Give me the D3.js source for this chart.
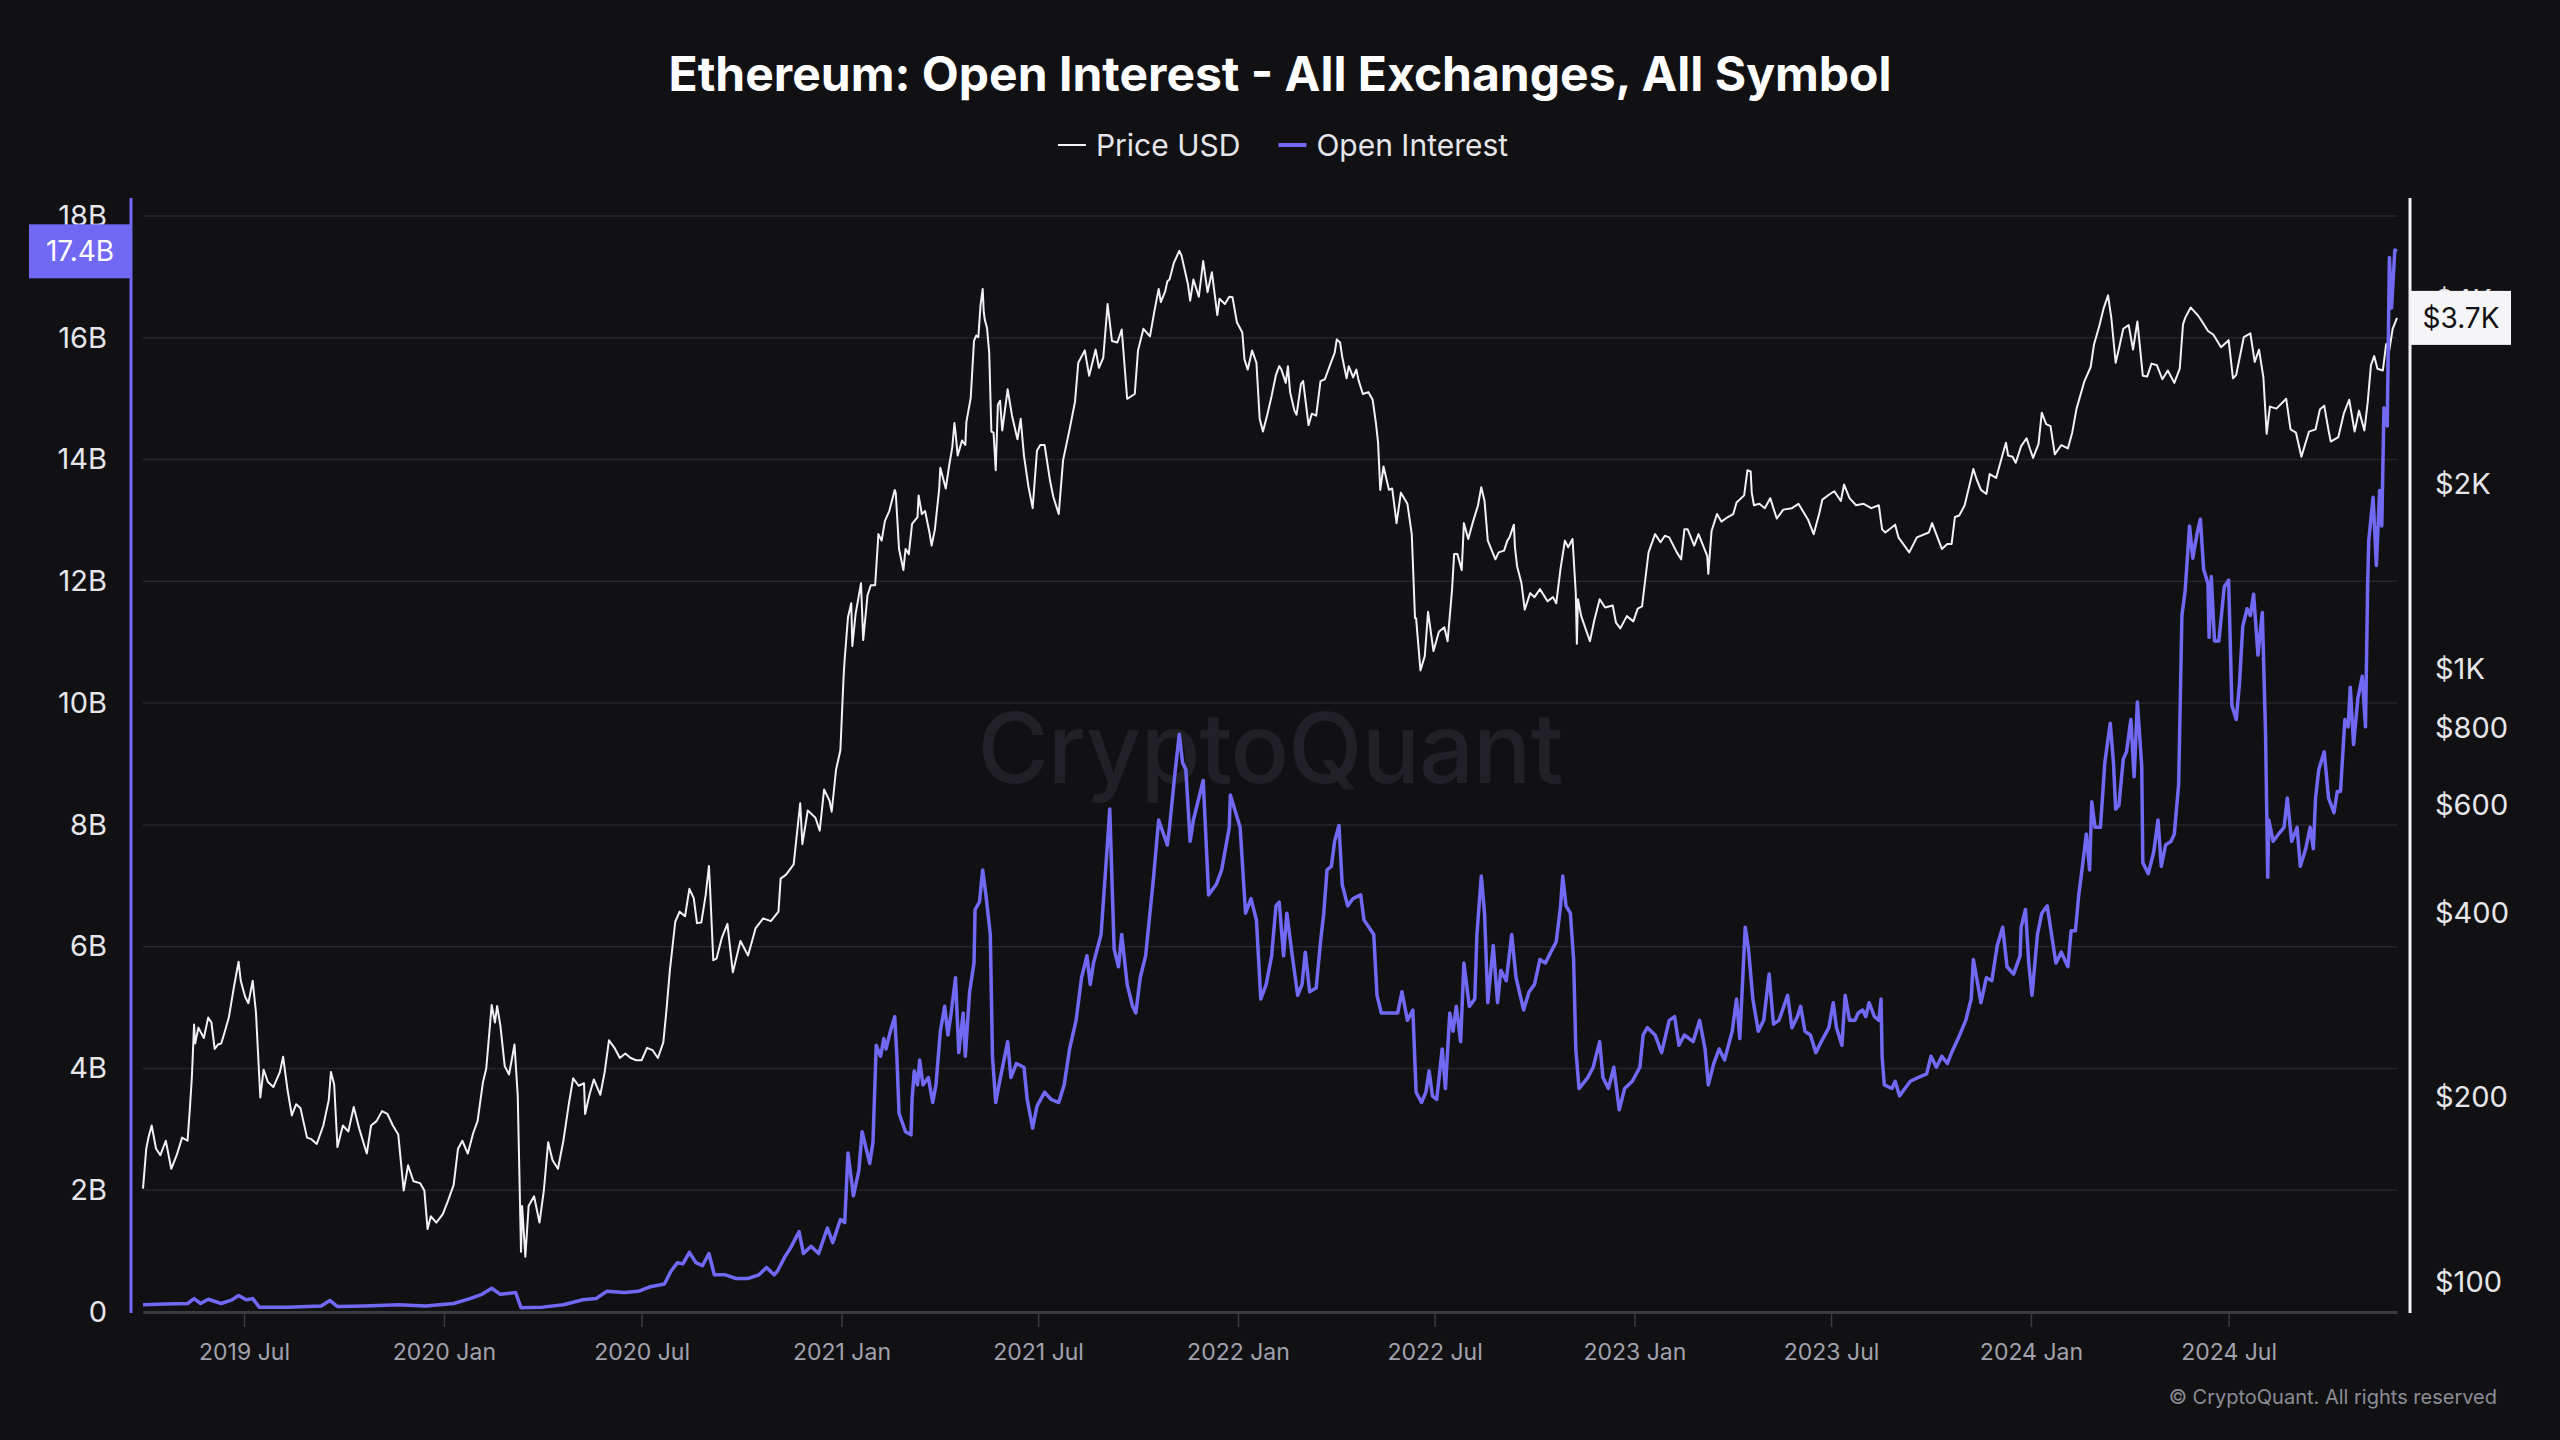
<!DOCTYPE html>
<html><head><meta charset="utf-8">
<script src="https://cdn.jsdelivr.net/npm/d3@7"></script>
<style>
html,body{margin:0;padding:0;background:#111114;}
svg{display:block;}
text{font-family:Inter,"Noto Sans","DejaVu Sans",sans-serif;}
</style>
</head><body>
<svg id="chart" width="2560" height="1440"></svg>
<script>
// ---------- DATA ----------
const chartTitle = "Ethereum: Open Interest - All Exchanges, All Symbol";
const seriesNames = ["Price USD", "Open Interest"];

// Price USD [date, value]
const price2019 = [["2019-03-30",142],["2019-04-02",165],["2019-04-04",172],["2019-04-07",180],["2019-04-11",165],["2019-04-15",161],["2019-04-20",170],["2019-04-25",153],["2019-04-30",161],["2019-05-05",172],["2019-05-10",170],["2019-05-12",190],["2019-05-14",216],["2019-05-16",263],["2019-05-17",245],["2019-05-20",260],["2019-05-25",250],["2019-05-29",270],["2019-06-01",265],["2019-06-04",240],["2019-06-07",244],["2019-06-10",245],["2019-06-13",255],["2019-06-17",270],["2019-06-22",305],["2019-06-26",333],["2019-06-28",310],["2019-07-02",292],["2019-07-05",285],["2019-07-09",310],["2019-07-12",275],["2019-07-16",200],["2019-07-19",222],["2019-07-23",212],["2019-07-28",208],["2019-08-03",220],["2019-08-06",233],["2019-08-10",206],["2019-08-14",187],["2019-08-18",195],["2019-08-22",192],["2019-08-28",172],["2019-09-01",171],["2019-09-06",168],["2019-09-12",180],["2019-09-17",198],["2019-09-19",220],["2019-09-22",210],["2019-09-25",166],["2019-09-30",180],["2019-10-05",176],["2019-10-10",193],["2019-10-15",178],["2019-10-22",162],["2019-10-26",180],["2019-10-31",183],["2019-11-05",190],["2019-11-10",188],["2019-11-15",180],["2019-11-20",174],["2019-11-25",141],["2019-11-29",155],["2019-12-04",146],["2019-12-10",145],["2019-12-14",141],["2019-12-17",122],["2019-12-20",128],["2019-12-25",125],["2019-12-31",129]];
const price2020 = [["2020-01-05",136],["2020-01-10",144],["2020-01-14",165],["2020-01-18",170],["2020-01-23",162],["2020-01-28",175],["2020-02-01",183],["2020-02-06",212],["2020-02-09",223],["2020-02-14",283],["2020-02-17",265],["2020-02-19",282],["2020-02-22",262],["2020-02-26",225],["2020-03-01",218],["2020-03-06",244],["2020-03-09",201],["2020-03-12",112],["2020-03-13",133],["2020-03-16",110],["2020-03-19",133],["2020-03-24",138],["2020-03-29",125],["2020-04-02",141],["2020-04-06",169],["2020-04-10",158],["2020-04-15",153],["2020-04-20",170],["2020-04-25",195],["2020-04-29",215],["2020-05-04",209],["2020-05-09",211],["2020-05-10",188],["2020-05-14",202],["2020-05-18",214],["2020-05-24",202],["2020-05-28",220],["2020-06-01",248],["2020-06-06",241],["2020-06-11",232],["2020-06-16",236],["2020-06-21",232],["2020-06-26",230],["2020-07-01",230],["2020-07-06",241],["2020-07-11",239],["2020-07-16",232],["2020-07-21",246],["2020-07-24",279],["2020-07-27",322],["2020-08-01",387],["2020-08-05",402],["2020-08-10",395],["2020-08-14",438],["2020-08-18",423],["2020-08-21",385],["2020-08-25",386],["2020-08-29",428],["2020-09-01",477],["2020-09-02",440],["2020-09-05",335],["2020-09-08",337],["2020-09-13",365],["2020-09-18",384],["2020-09-23",320],["2020-09-30",360],["2020-10-07",341],["2020-10-14",378],["2020-10-21",392],["2020-10-28",388],["2020-11-04",402],["2020-11-06",455],["2020-11-11",462],["2020-11-18",480],["2020-11-24",604],["2020-11-26",518],["2020-12-01",588],["2020-12-08",572],["2020-12-12",545],["2020-12-16",636],["2020-12-21",610],["2020-12-23",585],["2020-12-27",685],["2020-12-31",737]];
const price2021 = [["2021-01-03",975],["2021-01-04",1040],["2021-01-07",1215],["2021-01-10",1280],["2021-01-11",1090],["2021-01-14",1230],["2021-01-19",1380],["2021-01-21",1115],["2021-01-25",1320],["2021-01-28",1370],["2021-02-01",1370],["2021-02-04",1660],["2021-02-07",1620],["2021-02-10",1745],["2021-02-14",1810],["2021-02-19",1960],["2021-02-20",1935],["2021-02-23",1570],["2021-02-27",1450],["2021-03-01",1570],["2021-03-04",1540],["2021-03-07",1725],["2021-03-12",1770],["2021-03-13",1920],["2021-03-16",1790],["2021-03-19",1810],["2021-03-23",1670],["2021-03-25",1590],["2021-03-28",1690],["2021-04-01",1970],["2021-04-02",2130],["2021-04-07",1970],["2021-04-10",2140],["2021-04-13",2300],["2021-04-15",2520],["2021-04-16",2430],["2021-04-18",2230],["2021-04-22",2360],["2021-04-25",2320],["2021-04-26",2530],["2021-04-30",2770],["2021-05-03",3430],["2021-05-05",3500],["2021-05-07",3480],["2021-05-09",3920],["2021-05-11",4170],["2021-05-12",3820],["2021-05-13",3710],["2021-05-15",3600],["2021-05-17",3280],["2021-05-19",2440],["2021-05-21",2430],["2021-05-23",2110],["2021-05-25",2700],["2021-05-27",2740],["2021-05-29",2450],["2021-06-03",2860],["2021-06-07",2590],["2021-06-12",2370],["2021-06-15",2560],["2021-06-18",2230],["2021-06-22",1990],["2021-06-26",1830],["2021-06-30",2270],["2021-07-03",2320],["2021-07-07",2320],["2021-07-12",2030],["2021-07-15",1910],["2021-07-20",1790],["2021-07-24",2190],["2021-07-30",2460],["2021-08-04",2730],["2021-08-07",3160],["2021-08-13",3310],["2021-08-17",3010],["2021-08-23",3320],["2021-08-26",3100],["2021-08-30",3220],["2021-09-03",3940],["2021-09-07",3430],["2021-09-12",3410],["2021-09-16",3580],["2021-09-21",2760],["2021-09-28",2810],["2021-10-01",3310],["2021-10-06",3590],["2021-10-12",3490],["2021-10-16",3830],["2021-10-20",4170],["2021-10-22",3970],["2021-10-26",4130],["2021-10-28",4290],["2021-10-30",4320],["2021-11-03",4600],["2021-11-08",4810],["2021-11-10",4730],["2021-11-16",4240],["2021-11-18",3990],["2021-11-21",4320],["2021-11-26",4050],["2021-11-30",4630],["2021-12-04",4120],["2021-12-08",4440],["2021-12-13",3780],["2021-12-15",4020],["2021-12-20",3940],["2021-12-24",4050],["2021-12-27",4040],["2021-12-31",3680]];
const price2022 = [["2022-01-05",3540],["2022-01-07",3200],["2022-01-10",3080],["2022-01-14",3310],["2022-01-18",3160],["2022-01-21",2560],["2022-01-24",2440],["2022-01-28",2600],["2022-02-01",2790],["2022-02-05",3020],["2022-02-08",3120],["2022-02-10",3080],["2022-02-14",2930],["2022-02-16",3120],["2022-02-18",2830],["2022-02-22",2640],["2022-02-24",2600],["2022-02-28",2920],["2022-03-02",2950],["2022-03-07",2500],["2022-03-10",2610],["2022-03-14",2590],["2022-03-18",2950],["2022-03-22",2970],["2022-03-27",3140],["2022-03-31",3280],["2022-04-02",3450],["2022-04-05",3410],["2022-04-07",3230],["2022-04-11",2980],["2022-04-13",3120],["2022-04-17",2990],["2022-04-20",3080],["2022-04-22",2960],["2022-04-26",2810],["2022-05-01",2830],["2022-05-05",2750],["2022-05-08",2520],["2022-05-10",2340],["2022-05-12",1960],["2022-05-15",2140],["2022-05-20",1960],["2022-05-23",1970],["2022-05-27",1730],["2022-05-31",1940],["2022-06-06",1860],["2022-06-10",1660],["2022-06-13",1210],["2022-06-14",1210],["2022-06-18",995],["2022-06-22",1050],["2022-06-25",1240],["2022-06-30",1070],["2022-07-05",1150],["2022-07-10",1170],["2022-07-13",1110],["2022-07-17",1340],["2022-07-19",1540],["2022-07-22",1540],["2022-07-26",1450],["2022-07-28",1730],["2022-08-01",1630],["2022-08-05",1730],["2022-08-10",1850],["2022-08-13",1980],["2022-08-16",1880],["2022-08-19",1620],["2022-08-26",1510],["2022-08-29",1550],["2022-09-03",1560],["2022-09-06",1620],["2022-09-08",1640],["2022-09-12",1720],["2022-09-13",1580],["2022-09-15",1470],["2022-09-19",1380],["2022-09-22",1250],["2022-09-27",1330],["2022-10-01",1310],["2022-10-06",1350],["2022-10-13",1290],["2022-10-18",1310],["2022-10-21",1280],["2022-10-25",1460],["2022-10-29",1620],["2022-11-01",1580],["2022-11-05",1630],["2022-11-08",1330],["2022-11-09",1100],["2022-11-10",1300],["2022-11-13",1220],["2022-11-21",1110],["2022-11-25",1200],["2022-11-30",1300],["2022-12-05",1260],["2022-12-12",1270],["2022-12-15",1190],["2022-12-19",1165],["2022-12-25",1220],["2022-12-31",1196]];
const price2023 = [["2023-01-04",1255],["2023-01-08",1265],["2023-01-14",1550],["2023-01-20",1660],["2023-01-25",1610],["2023-01-29",1650],["2023-02-02",1640],["2023-02-09",1550],["2023-02-13",1510],["2023-02-16",1690],["2023-02-19",1690],["2023-02-25",1590],["2023-03-01",1660],["2023-03-09",1530],["2023-03-10",1430],["2023-03-13",1680],["2023-03-18",1790],["2023-03-22",1740],["2023-03-28",1770],["2023-04-02",1790],["2023-04-05",1870],["2023-04-12",1920],["2023-04-15",2110],["2023-04-18",2100],["2023-04-19",1940],["2023-04-21",1850],["2023-04-26",1860],["2023-05-01",1830],["2023-05-06",1900],["2023-05-12",1760],["2023-05-18",1820],["2023-05-26",1830],["2023-06-01",1860],["2023-06-05",1810],["2023-06-10",1750],["2023-06-15",1660],["2023-06-20",1790],["2023-06-23",1890],["2023-06-30",1930],["2023-07-04",1950],["2023-07-10",1880],["2023-07-13",2000],["2023-07-18",1900],["2023-07-24",1850],["2023-07-31",1860],["2023-08-07",1830],["2023-08-14",1850],["2023-08-17",1690],["2023-08-20",1670],["2023-08-29",1720],["2023-09-01",1640],["2023-09-11",1550],["2023-09-18",1640],["2023-09-29",1670],["2023-10-02",1730],["2023-10-11",1570],["2023-10-16",1600],["2023-10-20",1600],["2023-10-23",1770],["2023-10-27",1780],["2023-11-01",1850],["2023-11-09",2120],["2023-11-12",2040],["2023-11-16",1960],["2023-11-21",1930],["2023-11-24",2080],["2023-11-30",2050],["2023-12-06",2240],["2023-12-09",2340],["2023-12-11",2230],["2023-12-15",2220],["2023-12-18",2170],["2023-12-23",2310],["2023-12-28",2380],["2023-12-31",2290]];
const price2024 = [["2024-01-03",2210],["2024-01-08",2330],["2024-01-11",2620],["2024-01-15",2510],["2024-01-19",2490],["2024-01-23",2240],["2024-01-29",2320],["2024-02-04",2290],["2024-02-08",2430],["2024-02-12",2660],["2024-02-19",2940],["2024-02-25",3110],["2024-02-28",3380],["2024-03-04",3630],["2024-03-08",3880],["2024-03-12",4070],["2024-03-15",3740],["2024-03-19",3160],["2024-03-22",3330],["2024-03-26",3590],["2024-03-31",3640],["2024-04-04",3320],["2024-04-08",3690],["2024-04-13",3010],["2024-04-17",3000],["2024-04-21",3150],["2024-04-26",3130],["2024-05-01",2970],["2024-05-06",3070],["2024-05-12",2930],["2024-05-17",3090],["2024-05-20",3650],["2024-05-22",3740],["2024-05-27",3890],["2024-06-03",3770],["2024-06-07",3680],["2024-06-12",3560],["2024-06-17",3510],["2024-06-24",3350],["2024-07-01",3440],["2024-07-05",2980],["2024-07-08",3020],["2024-07-15",3480],["2024-07-21",3530],["2024-07-25",3170],["2024-07-29",3320],["2024-08-02",2990],["2024-08-05",2420],["2024-08-08",2680],["2024-08-14",2660],["2024-08-23",2760],["2024-08-27",2460],["2024-09-01",2430],["2024-09-06",2220],["2024-09-13",2440],["2024-09-19",2460],["2024-09-23",2650],["2024-09-27",2690],["2024-10-01",2450],["2024-10-03",2350],["2024-10-10",2390],["2024-10-15",2610],["2024-10-20",2750],["2024-10-25",2440],["2024-10-29",2640],["2024-11-03",2450],["2024-11-06",2720],["2024-11-09",3130],["2024-11-12",3240],["2024-11-15",3090],["2024-11-20",3070],["2024-11-23",3390],["2024-11-26",3320],["2024-11-29",3590],["2024-12-03",3740]];

// Open Interest, billions USD [date, value]
const oi2019 = [["2019-03-30",0.12],["2019-04-20",0.13],["2019-05-10",0.14],["2019-05-16",0.22],["2019-05-22",0.14],["2019-05-29",0.21],["2019-06-10",0.14],["2019-06-20",0.2],["2019-06-26",0.27],["2019-07-03",0.2],["2019-07-09",0.22],["2019-07-15",0.08],["2019-08-10",0.08],["2019-09-10",0.1],["2019-09-18",0.19],["2019-09-25",0.09],["2019-10-20",0.1],["2019-11-20",0.12],["2019-12-15",0.1]];
const oi2020 = [["2020-01-10",0.14],["2020-01-25",0.22],["2020-02-05",0.29],["2020-02-14",0.39],["2020-02-22",0.29],["2020-03-07",0.32],["2020-03-12",0.07],["2020-04-01",0.08],["2020-04-20",0.12],["2020-05-08",0.2],["2020-05-20",0.22],["2020-05-30",0.34],["2020-06-15",0.32],["2020-06-28",0.34],["2020-07-08",0.41],["2020-07-22",0.46],["2020-07-28",0.67],["2020-08-03",0.81],["2020-08-08",0.79],["2020-08-14",0.98],["2020-08-20",0.81],["2020-08-26",0.76],["2020-09-01",0.96],["2020-09-06",0.61],["2020-09-16",0.61],["2020-09-26",0.55],["2020-10-07",0.55],["2020-10-17",0.61],["2020-10-24",0.73],["2020-10-31",0.61],["2020-11-03",0.67],["2020-11-10",0.91],["2020-11-15",1.05],["2020-11-23",1.32],["2020-11-27",0.96],["2020-12-04",1.08],["2020-12-11",0.96],["2020-12-19",1.38],["2020-12-24",1.14],["2020-12-31",1.52]];
const oi2021 = [["2021-01-04",1.47],["2021-01-07",2.61],["2021-01-12",1.91],["2021-01-17",2.32],["2021-01-20",2.96],["2021-01-27",2.44],["2021-01-30",2.79],["2021-02-02",4.38],["2021-02-06",4.2],["2021-02-09",4.49],["2021-02-11",4.32],["2021-02-15",4.61],["2021-02-19",4.85],["2021-02-21",4.2],["2021-02-23",3.26],["2021-03-01",2.96],["2021-03-06",2.91],["2021-03-07",3.49],["2021-03-09",3.96],["2021-03-12",3.73],["2021-03-14",4.14],["2021-03-17",3.73],["2021-03-22",3.85],["2021-03-26",3.44],["2021-03-29",3.73],["2021-04-02",4.61],["2021-04-06",5.02],["2021-04-09",4.55],["2021-04-12",4.91],["2021-04-16",5.49],["2021-04-19",4.26],["2021-04-23",4.91],["2021-04-25",4.2],["2021-04-29",5.26],["2021-05-03",5.73],["2021-05-04",6.61],["2021-05-08",6.73],["2021-05-11",7.26],["2021-05-14",6.85],["2021-05-18",6.2],["2021-05-20",4.2],["2021-05-23",3.44],["2021-05-26",3.73],["2021-06-03",4.44],["2021-06-06",3.85],["2021-06-11",4.08],["2021-06-18",4.02],["2021-06-21",3.49],["2021-06-26",3.02],["2021-06-30",3.38],["2021-07-07",3.61],["2021-07-13",3.49],["2021-07-20",3.44],["2021-07-25",3.73],["2021-07-30",4.32],["2021-08-05",4.79],["2021-08-10",5.49],["2021-08-15",5.85],["2021-08-18",5.38],["2021-08-21",5.73],["2021-08-28",6.2],["2021-09-03",7.73],["2021-09-05",8.26],["2021-09-09",5.96],["2021-09-13",5.67],["2021-09-16",6.2],["2021-09-21",5.38],["2021-09-26",5.02],["2021-09-29",4.91],["2021-10-03",5.49],["2021-10-08",5.85],["2021-10-15",7.08],["2021-10-20",8.08],["2021-10-28",7.67],["2021-10-30",7.96],["2021-11-04",8.85],["2021-11-08",9.49],["2021-11-11",9.02],["2021-11-14",8.91],["2021-11-18",7.73],["2021-11-21",8.08],["2021-11-30",8.73],["2021-12-05",6.85],["2021-12-12",7.02],["2021-12-17",7.26],["2021-12-24",7.96],["2021-12-25",8.49]];
const oi2022 = [["2022-01-03",7.96],["2022-01-08",6.55],["2022-01-13",6.79],["2022-01-18",6.44],["2022-01-22",5.14],["2022-01-27",5.38],["2022-02-01",5.85],["2022-02-05",6.67],["2022-02-08",6.73],["2022-02-12",5.85],["2022-02-15",6.55],["2022-02-20",5.85],["2022-02-25",5.2],["2022-03-01",5.38],["2022-03-04",5.91],["2022-03-08",5.26],["2022-03-14",5.32],["2022-03-18",6.08],["2022-03-21",6.55],["2022-03-24",7.26],["2022-03-28",7.32],["2022-03-31",7.73],["2022-04-04",7.99],["2022-04-07",7.02],["2022-04-12",6.67],["2022-04-17",6.79],["2022-04-24",6.85],["2022-04-27",6.44],["2022-05-06",6.2],["2022-05-09",5.2],["2022-05-13",4.91],["2022-05-21",4.91],["2022-05-28",4.91],["2022-06-01",5.26],["2022-06-06",4.79],["2022-06-11",4.96],["2022-06-14",3.61],["2022-06-19",3.44],["2022-06-23",3.61],["2022-06-26",3.96],["2022-06-29",3.55],["2022-07-03",3.49],["2022-07-08",4.32],["2022-07-11",3.67],["2022-07-15",4.91],["2022-07-18",4.61],["2022-07-21",5.02],["2022-07-25",4.44],["2022-07-28",5.73],["2022-08-02",5.02],["2022-08-07",5.14],["2022-08-09",6.2],["2022-08-13",7.16],["2022-08-16",6.55],["2022-08-19",5.08],["2022-08-24",6.02],["2022-08-28",5.08],["2022-08-31",5.61],["2022-09-05",5.44],["2022-09-10",6.2],["2022-09-14",5.49],["2022-09-21",4.96],["2022-09-26",5.26],["2022-10-01",5.38],["2022-10-06",5.79],["2022-10-11",5.73],["2022-10-16",5.91],["2022-10-21",6.08],["2022-10-25",6.67],["2022-10-27",7.16],["2022-10-30",6.67],["2022-11-03",6.55],["2022-11-06",5.79],["2022-11-08",4.32],["2022-11-11",3.67],["2022-11-19",3.85],["2022-11-24",4.02],["2022-11-30",4.44],["2022-12-03",3.85],["2022-12-08",3.67],["2022-12-13",4.02],["2022-12-18",3.32],["2022-12-23",3.67],["2022-12-30",3.79]];
const oi2023 = [["2023-01-06",4.02],["2023-01-09",4.55],["2023-01-13",4.67],["2023-01-20",4.55],["2023-01-26",4.26],["2023-02-02",4.79],["2023-02-07",4.85],["2023-02-11",4.38],["2023-02-16",4.55],["2023-02-24",4.44],["2023-03-02",4.79],["2023-03-07",4.32],["2023-03-10",3.73],["2023-03-15",4.08],["2023-03-20",4.32],["2023-03-25",4.14],["2023-04-01",4.61],["2023-04-05",5.14],["2023-04-08",4.49],["2023-04-13",6.32],["2023-04-16",5.96],["2023-04-20",5.14],["2023-04-25",4.61],["2023-04-30",4.79],["2023-05-05",5.55],["2023-05-09",4.73],["2023-05-14",4.79],["2023-05-22",5.2],["2023-05-26",4.67],["2023-05-31",4.85],["2023-06-03",5.02],["2023-06-07",4.61],["2023-06-12",4.55],["2023-06-17",4.26],["2023-06-22",4.44],["2023-06-29",4.67],["2023-07-03",5.08],["2023-07-06",4.67],["2023-07-11",4.38],["2023-07-14",5.2],["2023-07-18",4.79],["2023-07-23",4.79],["2023-07-26",4.91],["2023-07-30",4.96],["2023-08-02",4.85],["2023-08-05",5.08],["2023-08-10",4.85],["2023-08-14",4.79],["2023-08-16",5.14],["2023-08-17",4.2],["2023-08-19",3.73],["2023-08-26",3.67],["2023-08-29",3.79],["2023-09-02",3.55],["2023-09-07",3.67],["2023-09-12",3.79],["2023-09-19",3.85],["2023-09-27",3.91],["2023-10-01",4.2],["2023-10-06",4.02],["2023-10-11",4.2],["2023-10-16",4.08],["2023-10-20",4.26],["2023-10-26",4.49],["2023-11-02",4.79],["2023-11-07",5.14],["2023-11-09",5.79],["2023-11-12",5.49],["2023-11-16",5.08],["2023-11-21",5.49],["2023-11-26",5.44],["2023-12-01",6.02],["2023-12-06",6.32],["2023-12-10",5.67],["2023-12-16",5.55],["2023-12-22",5.85],["2023-12-23",6.32],["2023-12-27",6.61],["2023-12-30",5.73]];
const oi2024 = [["2024-01-02",5.2],["2024-01-07",6.2],["2024-01-11",6.55],["2024-01-16",6.67],["2024-01-21",6.08],["2024-01-24",5.73],["2024-01-29",5.91],["2024-02-04",5.67],["2024-02-07",6.26],["2024-02-11",6.26],["2024-02-14",6.85],["2024-02-17",7.26],["2024-02-21",7.85],["2024-02-24",7.26],["2024-02-26",8.38],["2024-02-29",7.96],["2024-03-05",7.96],["2024-03-09",9.02],["2024-03-14",9.67],["2024-03-17",9.02],["2024-03-19",8.26],["2024-03-22",8.32],["2024-03-26",9.08],["2024-03-29",9.2],["2024-04-02",9.73],["2024-04-05",8.79],["2024-04-08",10.02],["2024-04-12",8.96],["2024-04-13",7.38],["2024-04-18",7.2],["2024-04-23",7.55],["2024-04-27",8.08],["2024-04-30",7.32],["2024-05-04",7.67],["2024-05-09",7.73],["2024-05-12",7.85],["2024-05-16",8.67],["2024-05-19",11.44],["2024-05-22",11.85],["2024-05-26",12.91],["2024-05-29",12.38],["2024-06-02",12.79],["2024-06-05",13.02],["2024-06-08",12.2],["2024-06-12",11.96],["2024-06-13",11.08],["2024-06-15",12.08],["2024-06-18",11.02],["2024-06-22",11.02],["2024-06-27",11.91],["2024-07-01",12.02],["2024-07-04",9.96],["2024-07-08",9.73],["2024-07-11",10.32],["2024-07-14",11.26],["2024-07-18",11.55],["2024-07-21",11.44],["2024-07-24",11.79],["2024-07-28",10.79],["2024-08-01",11.49],["2024-08-04",9.49],["2024-08-06",7.14],["2024-08-07",8.08],["2024-08-11",7.73],["2024-08-16",7.85],["2024-08-21",7.96],["2024-08-24",8.44],["2024-08-28",7.73],["2024-09-02",7.96],["2024-09-05",7.32],["2024-09-10",7.61],["2024-09-14",7.96],["2024-09-17",7.61],["2024-09-19",8.44],["2024-09-22",8.91],["2024-09-27",9.2],["2024-10-01",8.44],["2024-10-06",8.2],["2024-10-09",8.55],["2024-10-12",8.55],["2024-10-16",9.73],["2024-10-19",9.61],["2024-10-21",10.26],["2024-10-24",9.32],["2024-10-28",10.08],["2024-11-01",10.44],["2024-11-04",9.61],["2024-11-06",11.96],["2024-11-07",12.67],["2024-11-11",13.38],["2024-11-14",12.26],["2024-11-17",13.49],["2024-11-19",12.91],["2024-11-21",14.85],["2024-11-24",14.55],["2024-11-26",17.32],["2024-11-28",16.49],["2024-12-01",17.44],["2024-12-03",17.42]];

// Axis ticks and labels
const xTickDates = ["2019-07-01","2020-01-01","2020-07-01","2021-01-01","2021-07-01","2022-01-01","2022-07-01","2023-01-01","2023-07-01","2024-01-01","2024-07-01"];
const xTickLabels = ["2019 Jul","2020 Jan","2020 Jul","2021 Jan","2021 Jul","2022 Jan","2022 Jul","2023 Jan","2023 Jul","2024 Jan","2024 Jul"];
const oiTicks = [0,2,4,6,8,10,12,14,16,18];
const oiTickLabels = ["0","2B","4B","6B","8B","10B","12B","14B","16B","18B"];
const priceTicks = [100,200,400,600,800,1000,2000,4000];
const priceTickLabels = ["$100","$200","$400","$600","$800","$1K","$2K","$4K"];
const lastOILabel = "17.4B";
const lastPriceLabel = "$3.7K";
const watermark = "CryptoQuant";
const copyright = "\u00A9 CryptoQuant. All rights reserved";

// ---------- RENDER ----------
const W = 2560, H = 1440;
const C = {bg:"#111114", grid:"#25252a", axis:"#3a3a41", purple:"#7168f4", white:"#f2f2f4", label:"#e6e6ea", xlabel:"#a2a2ad", foot:"#8c8c95", wm:"#202026"};
const plot = {left:143, right:2397, top:198, bottom:1312};

const parse = d3.timeParse("%Y-%m-%d");
const toRows = arr => arr.map(([d,v]) => ({date: parse(d), value: v}));
const priceData = toRows([...price2019, ...price2020, ...price2021, ...price2022, ...price2023, ...price2024]);
const oiData = toRows([...oi2019, ...oi2020, ...oi2021, ...oi2022, ...oi2023, ...oi2024]);

const x = d3.scaleTime().domain(d3.extent(priceData, d => d.date)).range([plot.left, plot.right]);
const yOI = d3.scaleLinear().domain([0, 18]).range([1312, 216]);
const yPrice = d3.scaleLog().domain([100, 4000]).range([1282, 300]);

const svg = d3.select("#chart");
svg.append("rect").attr("width", W).attr("height", H).attr("fill", C.bg);

// watermark
svg.append("text").attr("x", 1270).attr("y", 783).attr("text-anchor", "middle")
  .attr("font-size", 97).attr("font-weight", 500).attr("fill", C.wm).attr("letter-spacing", -1).text(watermark);

// gridlines
svg.append("g").selectAll("line").data(oiTicks).join("line")
  .attr("x1", plot.left).attr("x2", plot.right)
  .attr("y1", d => yOI(d)).attr("y2", d => yOI(d))
  .attr("stroke", C.grid).attr("stroke-width", 1.5);

// x axis
const xAxis = svg.append("g").attr("transform", `translate(0,${plot.bottom})`)
  .call(d3.axisBottom(x).tickValues(xTickDates.map(parse)).tickFormat((d,i) => xTickLabels[i]).tickSize(15).tickSizeOuter(0).tickPadding(17));
xAxis.select(".domain").attr("stroke", C.axis).attr("stroke-width", 3);
xAxis.selectAll(".tick line").attr("stroke", C.axis).attr("stroke-width", 1.5);
xAxis.selectAll("text").attr("fill", C.xlabel).attr("font-size", 23).attr("font-family", "Inter, sans-serif");

// left axis
const yAxisL = svg.append("g").attr("transform", "translate(131,0)")
  .call(d3.axisLeft(yOI).tickValues(oiTicks).tickFormat((d,i) => oiTickLabels[i]).tickSize(0).tickPadding(24));
yAxisL.select(".domain").remove();
yAxisL.selectAll("text").attr("fill", C.label).attr("font-size", 29).attr("font-family", "Inter, sans-serif");
svg.append("line").attr("x1", 131).attr("x2", 131).attr("y1", plot.top).attr("y2", plot.bottom + 1)
  .attr("stroke", C.purple).attr("stroke-width", 3);

// right axis
const yAxisR = svg.append("g").attr("transform", "translate(2410,0)")
  .call(d3.axisRight(yPrice).tickValues(priceTicks).tickFormat((d,i) => priceTickLabels[i]).tickSize(0).tickPadding(25));
yAxisR.select(".domain").remove();
yAxisR.selectAll("text").attr("fill", C.label).attr("font-size", 29).attr("font-family", "Inter, sans-serif");
svg.append("line").attr("x1", 2410).attr("x2", 2410).attr("y1", plot.top).attr("y2", plot.bottom + 1)
  .attr("stroke", C.white).attr("stroke-width", 3);

// lines
const priceLine = d3.line().x(d => x(d.date)).y(d => yPrice(d.value)).curve(d3.curveLinear);
const oiLine = d3.line().x(d => x(d.date)).y(d => yOI(d.value)).curve(d3.curveLinear);
svg.append("path").datum(priceData).attr("d", priceLine).attr("fill", "none")
  .attr("stroke", C.white).attr("stroke-width", 2).attr("stroke-linejoin", "round");
svg.append("path").datum(oiData).attr("d", oiLine).attr("fill", "none")
  .attr("stroke", C.purple).attr("stroke-width", 3.5).attr("stroke-linejoin", "round");

// last value labels
const lastOI = oiData[oiData.length - 1];
const lastPrice = priceData[priceData.length - 1];
const gOI = svg.append("g").attr("transform", `translate(29,${yOI(lastOI.value) - 27})`);
gOI.append("rect").attr("width", 102).attr("height", 54).attr("fill", C.purple);
gOI.append("text").attr("x", 51).attr("y", 27).attr("dy", "0.35em").attr("text-anchor", "middle")
  .attr("font-size", 28).attr("fill", "#ffffff").text(lastOILabel);
const gP = svg.append("g").attr("transform", `translate(2411,${yPrice(lastPrice.value) - 27})`);
gP.append("rect").attr("width", 100).attr("height", 54).attr("fill", "#f5f5f7");
gP.append("text").attr("x", 50).attr("y", 27).attr("dy", "0.35em").attr("text-anchor", "middle")
  .attr("font-size", 28).attr("fill", "#111114").text(lastPriceLabel);

// title
svg.append("text").attr("x", 1280).attr("y", 91).attr("text-anchor", "middle")
  .attr("font-size", 48).attr("font-weight", 700).attr("fill", "#ffffff").text(chartTitle);

// legend
const legend = svg.append("g");
const legendColors = [C.white, C.purple];
const legendWidths = [2, 4];
let lx = 0;
seriesNames.forEach((name, i) => {
  const g = legend.append("g");
  g.append("line").attr("x1", 0).attr("x2", 28).attr("y1", 0).attr("y2", 0)
    .attr("stroke", legendColors[i]).attr("stroke-width", legendWidths[i]);
  const t = g.append("text").attr("x", 38).attr("y", 0).attr("dy", "0.35em")
    .attr("font-size", 30).attr("fill", C.label).text(name);
  const w = 38 + t.node().getComputedTextLength();
  g.attr("transform", `translate(${lx},0)`);
  lx += w + 38;
});
const totalW = lx - 38;
legend.attr("transform", `translate(${1283 - totalW / 2},145)`);

// footer
svg.append("text").attr("x", 2497).attr("y", 1397).attr("dy", "0.35em").attr("text-anchor", "end")
  .attr("font-size", 20).attr("fill", C.foot).text(copyright);
</script>
</body></html>
